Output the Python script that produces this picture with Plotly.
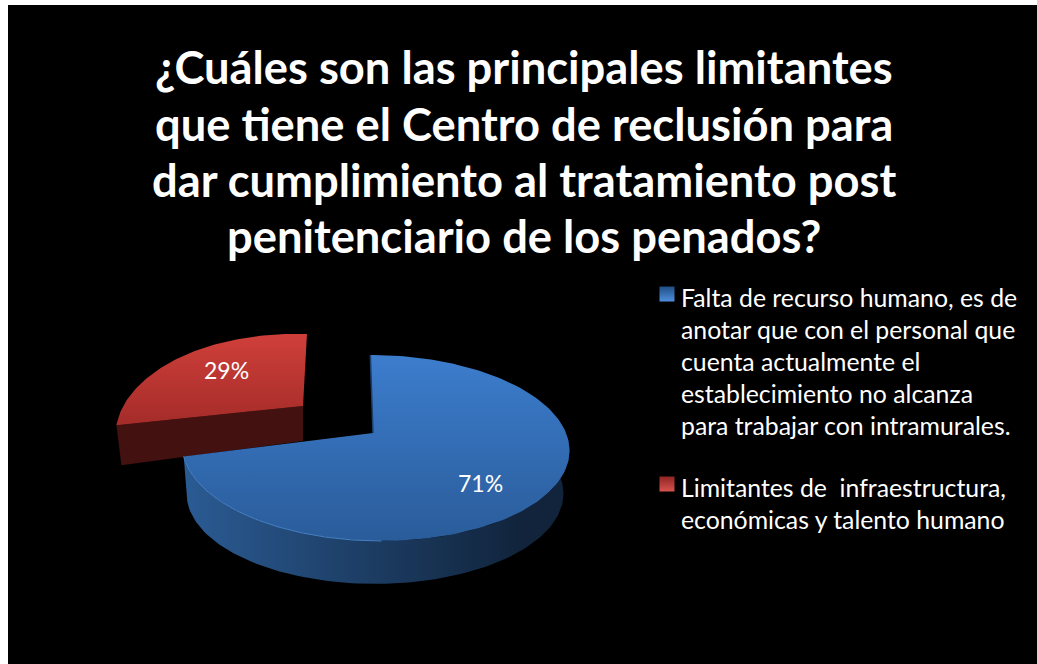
import numpy as np
import plotly.graph_objects as go

# --- data ---
categories = ["Falta de recurso humano", "Limitantes de infraestructura"]
values = [71, 29]
labels = ["71%", "29%"]
title_lines = [
    "¿Cuáles son las principales limitantes",
    "que tiene el Centro de reclusión para",
    "dar cumplimiento al tratamiento post",
    "penitenciario de los penados?",
]
legend_blue = [
    "Falta de recurso humano, es de",
    "anotar que con el personal que",
    "cuenta actualmente el",
    "establecimiento no alcanza",
    "para trabajar con intramurales.",
]
legend_red = [
    "Limitantes de  infraestructura,",
    "económicas y talento humano",
]

W, H = 1037, 664
FONT = "Lato"
share = np.array(values) / sum(values) * 2 * np.pi


def rim(t, x0, y0, bx, ay, k, shear=0.0, skew=0.0, off=0.0):
    """Project angle(s) on the pie's circle to the perspective ellipse."""
    u, v = np.sin(t), np.cos(t)
    d = 1 + k * v
    dx, dy = bx * u / d, -ay * v / d
    return x0 + off + dx - shear * dy, y0 + dy + skew * dx


BLUE_TOP = dict(x0=373, y0=433, bx=191, ay=90.6, k=0.161, shear=-0.06, off=2)
BLUE_BOT = dict(x0=373, y0=479, bx=186, ay=88, k=0.161, off=2)
RED_TOP = dict(x0=303, y0=406, bx=176, ay=95, k=0.32, shear=0.055, skew=0.035)

fig = go.Figure()


def poly(xs, ys, c0, c1, kind, start, stop):
    fig.add_trace(go.Scatter(
        x=xs, y=ys, mode="lines", line=dict(width=0), fill="toself",
        fillgradient=dict(type=kind, start=start, stop=stop,
                          colorscale=[[0, c0], [1, c1]]),
        hoverinfo="skip", showlegend=False))


# red slice: cut face, then top
t_red = np.linspace(share[0], 2 * np.pi, 90)
xr, yr = rim(t_red, **RED_TOP)
face_x = [RED_TOP["x0"], xr[0], xr[0] + 5, RED_TOP["x0"]]
face_y = [RED_TOP["y0"], yr[0], yr[0] + 40, RED_TOP["y0"] + 35]
fig.add_trace(go.Scatter(x=face_x, y=face_y, mode="lines", line=dict(width=0),
                         fill="toself", fillcolor="#43110f",
                         hoverinfo="skip", showlegend=False))
poly(np.r_[RED_TOP["x0"], xr], np.r_[RED_TOP["y0"], yr],
     "#a52c29", "#cf3f3a", "vertical", 424, 334)

# blue slice: outer wall, then top
t_wall = np.linspace(np.pi * 0.3, share[0], 140)
xa, ya = rim(t_wall, **BLUE_TOP)
xb, yb = rim(t_wall, **BLUE_BOT)
poly(np.r_[xa, xb[::-1]], np.r_[ya, yb[::-1]],
     "#11243c", "#2a5a92", "horizontal", 520, 190)

t_top = np.linspace(0, share[0], 200)
xt, yt = rim(t_top, **BLUE_TOP)
poly(np.r_[BLUE_TOP["x0"], xt], np.r_[BLUE_TOP["y0"], yt],
     "#2a5c9a", "#3c7dcd", "vertical", 541, 355)

# bevel highlight on the front edge, dark edge on the back cut
t_edge = np.linspace(np.pi, share[0], 80)
xe, ye = rim(t_edge, **BLUE_TOP)
fig.add_trace(go.Scatter(x=xe, y=ye, mode="lines",
                         line=dict(color="#4682c6", width=1),
                         hoverinfo="skip", showlegend=False))
fig.add_trace(go.Scatter(x=[xt[0], BLUE_TOP["x0"]], y=[yt[0], BLUE_TOP["y0"]],
                         mode="lines", line=dict(color="#1d3f6c", width=1.5),
                         hoverinfo="skip", showlegend=False))

# legend swatches
fig.add_trace(go.Scatter(
    x=[667, 667], y=[294, 484], mode="markers",
    marker=dict(symbol="square", size=15, color=["#1f4e86", "#8f2523"],
                gradient=dict(type="vertical", color=["#4f8fdc", "#d8534e"])),
    hoverinfo="skip", showlegend=False))

ann = []
for line, y in zip(title_lines, [66, 123, 179, 235]):
    ann.append(dict(x=524, y=y, text=f"<b>{line}</b>",
                    font=dict(size=45.3, color="white", family=FONT)))
for line, y in zip(legend_blue + legend_red, [297, 329, 361, 393, 425, 487, 519]):
    ann.append(dict(x=679, y=y, text=line, xanchor="left",
                    font=dict(size=24.8, color="white", family=FONT)))
ann.append(dict(x=480, y=483, text=labels[0], font=dict(size=23, color="white", family=FONT)))
ann.append(dict(x=226, y=370, text=labels[1], font=dict(size=23, color="white", family=FONT)))
for a in ann:
    a.update(xref="x", yref="y", showarrow=False)

fig.update_layout(
    width=W, height=H, margin=dict(l=0, r=0, t=0, b=0),
    paper_bgcolor="black", plot_bgcolor="black", showlegend=False,
    xaxis=dict(range=[0, W], visible=False, fixedrange=True),
    yaxis=dict(range=[H, 0], visible=False, fixedrange=True),
    annotations=ann,
    shapes=[
        dict(type="rect", xref="x", yref="y", x0=0, x1=8, y0=0, y1=H,
             fillcolor="white", line_width=0, layer="below"),
        dict(type="rect", xref="x", yref="y", x0=0, x1=W, y0=0, y1=5,
             fillcolor="white", line_width=0, layer="below"),
    ],
)
fig.write_html("out.html", config={"displayModeBar": False},
               post_script="document.body.style.margin='0';document.body.style.overflow='hidden';document.body.style.background='black';")
